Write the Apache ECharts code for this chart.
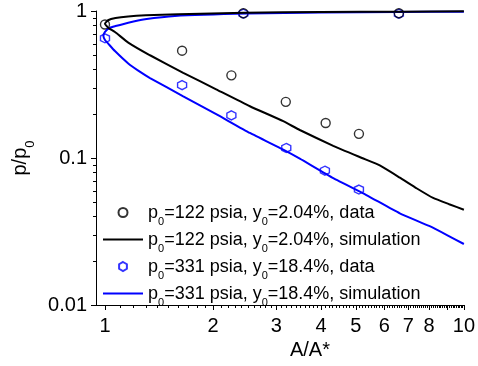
<!DOCTYPE html>
<html>
<head>
<meta charset="utf-8">
<script src="https://cdn.jsdelivr.net/npm/echarts@6/dist/echarts.min.js"></script>
<style>
  html, body { margin: 0; padding: 0; background: #fff; }
  #chart { width: 478px; height: 366px; }
</style>
</head>
<body>
<div id="chart"></div>
<script>
// Measured static pressure ratio p/p0 against nozzle area ratio A/A*
const blackDataX = [1.0, 1.64, 2.25, 3.19, 4.12, 5.1, 2.43, 6.59];
const blackDataY = [0.81, 0.537, 0.365, 0.241, 0.173, 0.146, 0.965, 0.965];
const blueDataX = [1.0, 1.64, 2.25, 3.2, 4.1, 5.1, 2.43, 6.59];
const blueDataY = [0.652, 0.313, 0.195, 0.117, 0.082, 0.061, 0.96, 0.958];

// Simulated curves: subsonic branch from A/A*=10 back to the throat, then supersonic branch out to 10
const blackSimX = [10, 6.6, 4, 2.45, 1.6, 1.3, 1.16, 1.07, 1.02, 1.0,
                   1.02, 1.066, 1.161, 1.335, 1.652, 2.047, 2.534, 3.138, 3.49, 4.325, 5.2, 5.83, 6.63, 7.4, 8.21, 9.1, 10];
const blackSimY = [0.995, 0.99, 0.985, 0.972, 0.952, 0.935, 0.918, 0.895, 0.865, 0.82,
                   0.77, 0.72, 0.61, 0.5, 0.38, 0.292, 0.225, 0.178, 0.155, 0.121, 0.1, 0.089, 0.0735, 0.062, 0.0535, 0.0485, 0.0445];
const blueSimX = [10, 6.6, 4, 2.5, 1.566, 1.292, 1.161, 1.07, 1.033, 1.0, 0.99,
                  1.0, 1.021, 1.066, 1.161, 1.25, 1.335, 1.652, 2.047, 2.534, 3.138, 3.49, 4.325, 5.35, 6.63, 8.0, 9.0, 10];
const blueSimY = [0.99, 0.985, 0.975, 0.96, 0.925, 0.878, 0.833, 0.79, 0.77, 0.72, 0.675,
                  0.635, 0.6, 0.534, 0.44, 0.387, 0.35, 0.263, 0.198, 0.148, 0.114, 0.099, 0.073, 0.056, 0.042, 0.0345, 0.0298, 0.026];

// Legend text pieces
const legendP0 = ['122', '122', '331', '331'];
const legendY0 = ['2.04%', '2.04%', '18.4%', '18.4%'];
const legendKind = ['data', 'simulation', 'data', 'simulation'];

// Axis ticks and labels
const xMajorTicks = [1, 2, 3, 4, 5, 6, 7, 8, 9, 10];
const xTickLabels = ['1', '2', '3', '4', '5', '6', '7', '8', '9', '10'];
const yMajorTicks = [0.01, 0.1, 1];
const yTickLabels = ['0.01', '0.1', '1'];

// Minor ticks: tenths between integers on A/A*, 2..9 within each decade on p/p0
const xMinorTicks = [];
for (let i = 1; i < 10; i++) {
  for (let k = 1; k < 10; k++) xMinorTicks.push(i + k / 10);
}
const yMinorTicks = [];
for (const decade of [0.01, 0.1]) {
  for (let k = 2; k < 10; k++) yMinorTicks.push(k * decade);
}

const xMin = 0.944, xMax = 10, yMin = 0.01, yMax = 1;
const MAJOR_LEN = 5, MINOR_LEN = 3;
const FONT = '"Liberation Sans", Arial, sans-serif';
const BLUE = '#0000ff';
const pairs = (xs, ys) => xs.map((x, i) => [x, ys[i]]);
const names = legendKind.map((k, i) => 'p0=' + legendP0[i] + ' psia, y0=' + legendY0[i] + ', ' + k);
const labelFor = (ticks, labels) => v => {
  const i = ticks.findIndex(t => Math.abs(Math.log10(t) - Math.log10(v)) < 1e-6);
  return i < 0 ? '' : labels[i];
};

const hexagon = 'path://M0,-10 L8.66,-5 L8.66,5 L0,10 L-8.66,5 L-8.66,-5 Z';
const lineIcon = 'path://M0,0 L40,0 L40,2 L0,2 Z';
const off = () => ({ show: false });
const blackLine = () => ({ show: true, onZero: false, lineStyle: { color: '#000', width: 1 } });

const chart = echarts.init(document.getElementById('chart'));
chart.setOption({
  animation: false,
  grid: { left: 96, right: 14, top: 11, bottom: 61 },
  xAxis: {
    type: 'log', min: xMin, max: xMax, position: 'bottom',
    axisLine: blackLine(),
    axisTick: off(),
    axisLabel: {
      show: true, customValues: xMajorTicks.slice(), formatter: labelFor(xMajorTicks, xTickLabels),
      showMinLabel: true, showMaxLabel: true, hideOverlap: false,
      margin: 11, fontSize: 20, fontFamily: FONT, color: '#000'
    },
    splitLine: off(), minorTick: off(),
    name: 'A/A*', nameLocation: 'middle', nameGap: 35,
    nameTextStyle: { fontSize: 20, fontFamily: FONT, color: '#000', padding: [0, 0, 0, 60] }
  },
  yAxis: {
    type: 'log', min: yMin, max: yMax, position: 'left',
    axisLine: blackLine(),
    axisTick: off(),
    axisLabel: {
      show: true, customValues: yMajorTicks.slice(), formatter: labelFor(yMajorTicks, yTickLabels),
      showMinLabel: true, showMaxLabel: true,
      margin: 9, fontSize: 20, fontFamily: FONT, color: '#000'
    },
    splitLine: off(), minorTick: off(),
    name: '{t|p/p}{s|0}', nameLocation: 'middle', nameGap: 58, nameRotate: 90,
    nameTextStyle: {
      rich: {
        t: { fontSize: 20, fontFamily: FONT, color: '#000', lineHeight: 20, verticalAlign: 'top' },
        s: { fontSize: 13, fontFamily: FONT, color: '#000', lineHeight: 13, verticalAlign: 'top', padding: [14, 0, 0, 0] }
      }
    }
  },
  legend: {
    orient: 'vertical', left: 103, top: 204, padding: 0,
    itemWidth: 40, itemHeight: 9, itemGap: 4,
    selectedMode: false,
    data: [
      { name: names[0] },
      { name: names[1], icon: lineIcon },
      { name: names[2] },
      { name: names[3], icon: lineIcon }
    ],
    formatter: name => {
      const i = names.indexOf(name);
      return '{t|p}{s|0}{t|=' + legendP0[i] + ' psia, y}{s|0}{t|=' + legendY0[i] + ', ' + legendKind[i] + '}';
    },
    textStyle: {
      rich: {
        t: { fontSize: 18, fontFamily: FONT, color: '#000', lineHeight: 17, verticalAlign: 'top' },
        s: { fontSize: 11, fontFamily: FONT, color: '#000', lineHeight: 11, verticalAlign: 'top', padding: [12, 0, 0, 0] }
      }
    }
  },
  series: [
    {
      name: names[3], type: 'line', data: pairs(blueSimX, blueSimY),
      symbol: 'none', smooth: 0.15,
      lineStyle: { color: BLUE, width: 2 }, itemStyle: { color: BLUE }
    },
    {
      name: names[2], type: 'scatter', data: pairs(blueDataX, blueDataY),
      symbol: hexagon, symbolSize: 9,
      itemStyle: { color: 'rgba(255,255,255,0)', borderColor: BLUE, borderWidth: 1.4 }
    },
    {
      name: names[1], type: 'line', data: pairs(blackSimX, blackSimY),
      symbol: 'none', smooth: 0.15,
      lineStyle: { color: '#000', width: 2 }, itemStyle: { color: '#000' }
    },
    {
      name: names[0], type: 'scatter', data: pairs(blackDataX, blackDataY),
      symbol: 'circle', symbolSize: 9,
      itemStyle: { color: 'rgba(255,255,255,0)', borderColor: '#000', borderWidth: 1.4 }
    }
  ]
});

// Outward tick marks, positioned through the axes' own log scales
const toPx = (x, y) => chart.convertToPixel({ gridIndex: 0 }, [x, y]);
const tickLine = (x1, y1, x2, y2) => ({
  type: 'line', silent: true, z: 100,
  shape: { x1: x1, y1: y1, x2: x2, y2: y2 },
  style: { stroke: '#000', lineWidth: 1 }
});
const tickEls = [];
const xTick = (v, len) => {
  const p = toPx(v, yMin);
  const x = Math.round(p[0]) + 0.5;
  tickEls.push(tickLine(x, p[1], x, p[1] + len));
};
const yTick = (v, len) => {
  const p = toPx(xMin, v);
  const y = Math.round(p[1]) + 0.5;
  tickEls.push(tickLine(p[0], y, p[0] - len, y));
};
xMajorTicks.forEach(v => xTick(v, MAJOR_LEN));
xMinorTicks.forEach(v => xTick(v, MINOR_LEN));
yMajorTicks.forEach(v => yTick(v, MAJOR_LEN));
yMinorTicks.forEach(v => yTick(v, MINOR_LEN));
chart.setOption({ graphic: { elements: tickEls } });
</script>
</body>
</html>
